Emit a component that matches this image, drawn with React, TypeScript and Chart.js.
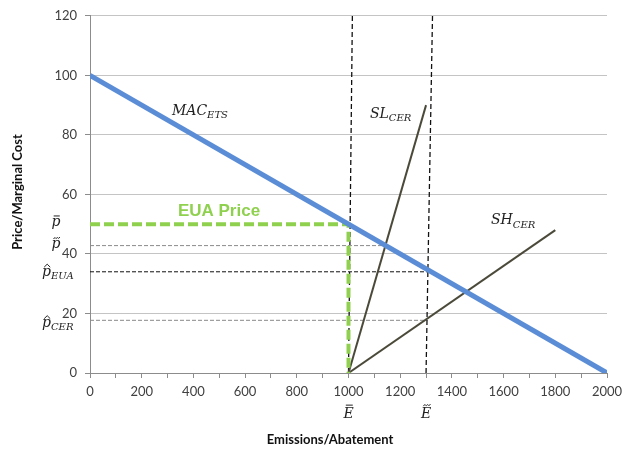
import React, { useEffect, useRef } from "react";
import { Chart, registerables } from "chart.js";

Chart.register(...registerables);

// Axis ranges and ticks
const xMin = 0;
const xMax = 2000;
const xStep = 100;
const xLabelEvery = 200;
const yMin = 0;
const yMax = 120;
const yStep = 20;

// Marginal abatement cost of the ETS
const macX = [0, 2000];
const macY = [100, 0];

// Steep CER supply curve
const slX = [1000, 1300];
const slY = [0, 90];

// Shallow CER supply curve
const shX = [1000, 1800];
const shY = [0, 48];

// EUA price path (horizontal then down to the cap)
const euaX = [0, 1000, 1000];
const euaY = [50, 50, 0];

// Reference price levels
const pTildeX = [0, 1143];
const pTildeY = [42.8, 42.8];
const pHatEuaX = [0, 1305];
const pHatEuaY = [34, 34];
const pHatCerX = [0, 1305];
const pHatCerY = [17.7, 17.7];

// Emission cap lines
const eBarX = [1000, 1015];
const eBarY = [0, 120];
const eTildeX = [1300, 1325];
const eTildeY = [0, 120];

const pts = (xs: number[], ys: number[]) => xs.map((x, i) => ({ x, y: ys[i] }));

const SERIF = '"DejaVu Serif", "Liberation Serif", serif';
const SANS = 'Lato, "Open Sans", sans-serif';
const INK = "#222";

type Accent = "" | "bar" | "hat" | "tilde";

// Italic math symbol with optional accent above and subscript
function mathText(
  ctx: CanvasRenderingContext2D,
  base: string,
  sub: string,
  x: number,
  y: number,
  size: number,
  align: "left" | "right" | "center" = "left",
  accent: Accent = "",
  glyphTop = 0.55
) {
  ctx.save();
  ctx.textBaseline = "alphabetic";
  ctx.textAlign = "left";
  ctx.fillStyle = INK;
  ctx.strokeStyle = INK;
  const baseFont = `italic ${size}px ${SERIF}`;
  const subSize = Math.round(size * 0.68);
  const subFont = `italic ${subSize}px ${SERIF}`;
  ctx.font = baseFont;
  const wb = ctx.measureText(base).width;
  ctx.font = subFont;
  const ws = sub ? ctx.measureText(sub).width : 0;
  const total = wb + ws;
  let x0 = x;
  if (align === "right") x0 = x - total;
  if (align === "center") x0 = x - total / 2;
  ctx.font = baseFont;
  ctx.fillText(base, x0, y);
  if (sub) {
    ctx.font = subFont;
    ctx.fillText(sub, x0 + wb, y + size * 0.22);
  }
  if (accent) {
    const cx = x0 + wb * 0.58;
    const ay = y - size * glyphTop - 2.5;
    const hw = Math.max(3, wb * 0.34);
    ctx.lineWidth = 1;
    ctx.beginPath();
    if (accent === "bar") {
      ctx.moveTo(cx - hw, ay);
      ctx.lineTo(cx + hw, ay);
    } else if (accent === "hat") {
      ctx.moveTo(cx - hw, ay + 1.5);
      ctx.lineTo(cx, ay - 1.5);
      ctx.lineTo(cx + hw, ay + 1.5);
    } else {
      ctx.moveTo(cx - hw, ay + 1);
      ctx.bezierCurveTo(cx - hw / 2, ay - 2.5, cx - hw / 4, ay + 2, cx, ay);
      ctx.bezierCurveTo(cx + hw / 4, ay - 2, cx + hw / 2, ay + 2.5, cx + hw, ay - 1);
    }
    ctx.stroke();
  }
  ctx.restore();
}

const annotations = {
  id: "annotations",
  afterDraw(chart: any) {
    const { ctx, scales } = chart;
    const xs = scales.x;
    const ys = scales.y;
    const px = (v: number) => xs.getPixelForValue(v);
    const py = (v: number) => ys.getPixelForValue(v);

    // curve labels
    mathText(ctx, "MAC", "ETS", px(317), py(86.7), 14);
    mathText(ctx, "SL", "CER", px(1083), py(85.7), 14);
    mathText(ctx, "SH", "CER", px(1551), py(49.9), 14);

    // EUA price label
    ctx.save();
    ctx.font = `bold 17px "Liberation Sans", Arial, sans-serif`;
    ctx.fillStyle = "#8FD14F";
    ctx.textAlign = "left";
    ctx.textBaseline = "alphabetic";
    ctx.fillText("EUA Price", px(340), py(52.7));
    ctx.restore();

    // price level labels beside the y axis
    mathText(ctx, "p", "", 56, py(50) + 2, 14, "center", "bar");
    mathText(ctx, "p", "", 56, py(42.6) + 2, 14, "center", "tilde");
    mathText(ctx, "p", "EUA", 42, py(33.3) + 2, 14, "left", "hat");
    mathText(ctx, "p", "CER", 42, py(16) + 2, 14, "left", "hat");

    // cap labels under the x axis
    mathText(ctx, "E", "", px(1000), 418, 14, "center", "bar", 0.74);
    mathText(ctx, "E", "", px(1300), 418, 14, "center", "tilde", 0.74);

    // axis titles
    ctx.save();
    ctx.fillStyle = "#111";
    ctx.font = `bold 13px ${SANS}`;
    ctx.textAlign = "center";
    ctx.textBaseline = "middle";
    ctx.fillText("Emissions/Abatement", 330, 440);
    ctx.translate(18, 192);
    ctx.rotate(-Math.PI / 2);
    ctx.fillText("Price/Marginal Cost", 0, 0);
    ctx.restore();
  },
};

export default function App() {
  const ref = useRef<HTMLCanvasElement>(null);

  useEffect(() => {
    document.body.style.margin = "0";
    if (!ref.current) return;
    const line = (data: any, color: string, width: number, dash: number[] = []) => ({
      data,
      showLine: true,
      borderColor: color,
      backgroundColor: color,
      borderWidth: width,
      borderDash: dash,
      pointRadius: 0,
      fill: false,
      tension: 0,
    });

    const chart = new Chart(ref.current, {
      type: "scatter",
      data: {
        datasets: [
          line(pts(macX, macY), "#5B8DD6", 5),
          line(pts(euaX, euaY), "#8FD14F", 4, [10, 4]),
          line(pts(slX, slY), "#4B4A3A", 2),
          line(pts(shX, shY), "#4B4A3A", 2),
          line(pts(eBarX, eBarY), "#111", 1.3, [5, 3]),
          line(pts(eTildeX, eTildeY), "#111", 1.3, [5, 3]),
          line(pts(pHatEuaX, pHatEuaY), "#111", 1, [4, 2]),
          line(pts(pTildeX, pTildeY), "#8a8a8a", 1, [4, 2]),
          line(pts(pHatCerX, pHatCerY), "#8a8a8a", 1, [4, 2]),
        ] as any,
      },
      options: {
        animation: false,
        responsive: false,
        devicePixelRatio: 1,
        layout: { padding: { top: 13, right: 16, left: 0, bottom: 0 } },
        plugins: { legend: { display: false }, tooltip: { enabled: false } },
        scales: {
          x: {
            type: "linear",
            min: xMin,
            max: xMax,
            afterFit: (s: any) => {
              s.height = 79;
              s.paddingLeft = 0;
              s.paddingRight = 0;
            },
            ticks: {
              stepSize: xStep,
              autoSkip: false,
              maxRotation: 0,
              padding: 6,
              color: "#404040",
              font: { family: SANS, size: 13 },
              callback: (v: any) => (Number(v) % xLabelEvery === 0 ? String(v) : ""),
            },
            grid: {
              drawOnChartArea: false,
              drawTicks: true,
              tickLength: 5,
              color: "#8c8c8c",
            },
            border: { color: "#8c8c8c", width: 1 },
          },
          y: {
            type: "linear",
            min: yMin,
            max: yMax,
            afterFit: (s: any) => {
              s.width = 90;
            },
            ticks: {
              stepSize: yStep,
              padding: 8,
              color: "#404040",
              font: { family: SANS, size: 13 },
            },
            grid: {
              color: "#c4c4c4",
              tickColor: "#8c8c8c",
              tickLength: 5,
            },
            border: { color: "#8c8c8c", width: 1 },
          },
        },
      } as any,
      plugins: [annotations],
    });
    return () => chart.destroy();
  }, []);

  return <canvas ref={ref} width={623} height={452} />;
}
